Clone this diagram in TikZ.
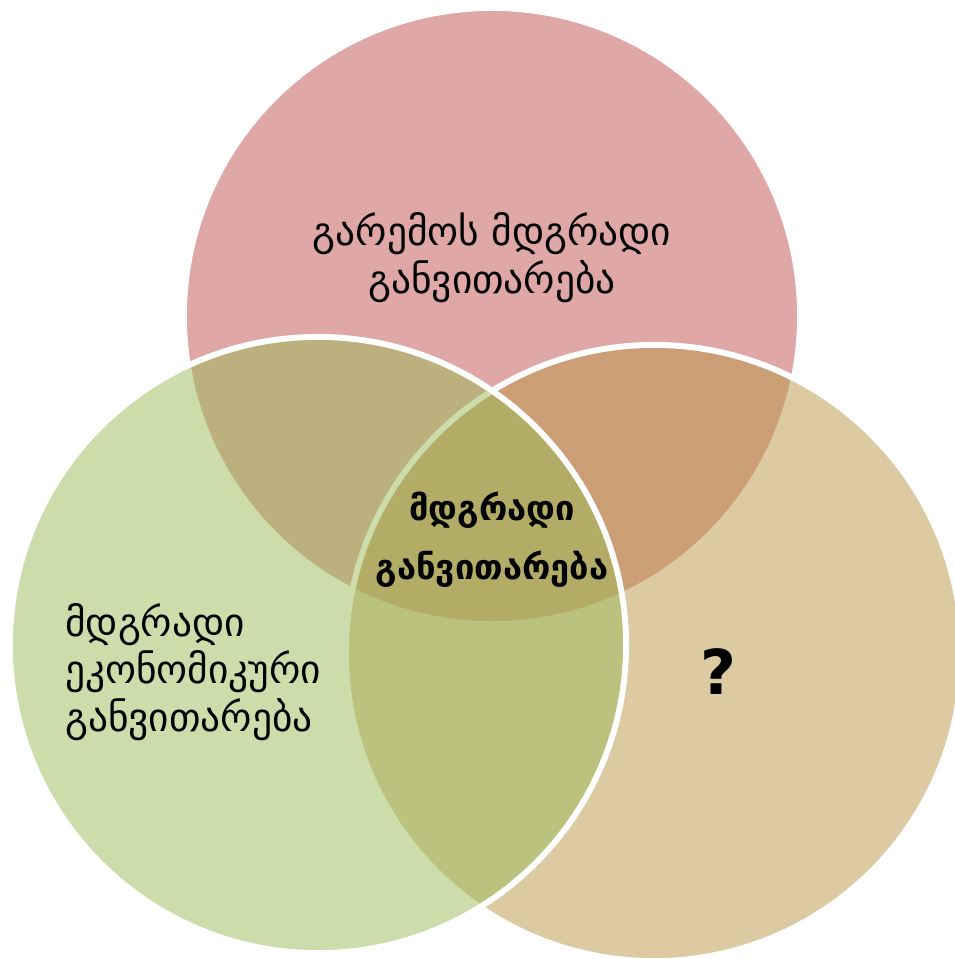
\documentclass[tikz,border=0pt]{standalone}
\usepackage{fontspec}
\setmainfont{DejaVu Sans}
\definecolor{kreisrot}{HTML}{C0504D}
\definecolor{kreisgruen}{HTML}{9BBB59}
\definecolor{kreisbraun}{HTML}{BB9749}
\tikzset{kreis/.style={draw=white,line width=4.2pt,fill opacity=.5},
  beschr/.style={align=center,inner sep=0pt,font=\fontsize{28}{34}\selectfont}}
\begin{document}
\begin{tikzpicture}[x=0.025cm,y=-0.025cm]
  \useasboundingbox[fill=white] (0,0) rectangle (954,959);
  % Kreise
  \path[kreis,fill=kreisrot] (492,316) circle (7.7cm);
  \path[kreis,fill=kreisbraun] (654,653) circle (7.7cm);
  \path[kreis,fill=kreisgruen] (318,645) circle (7.7cm);
  % Texte
  \node[beschr] (oben) at (492,258) {გარემოს მდგრადი\\განვითარება};
  \node[beschr,align=left,anchor=west] (links) at (65,672) {მდგრადი\\ეკონომიკური\\განვითარება};
  \node[beschr,font=\bfseries\fontsize{24.5}{42}\selectfont] (mitte) at (492,540) {მდგრადი\\განვითარება};
  \node[font=\bfseries\fontsize{44}{50}\selectfont,inner sep=0pt] (frage) at (718,672) {?};
\end{tikzpicture}
\end{document}
